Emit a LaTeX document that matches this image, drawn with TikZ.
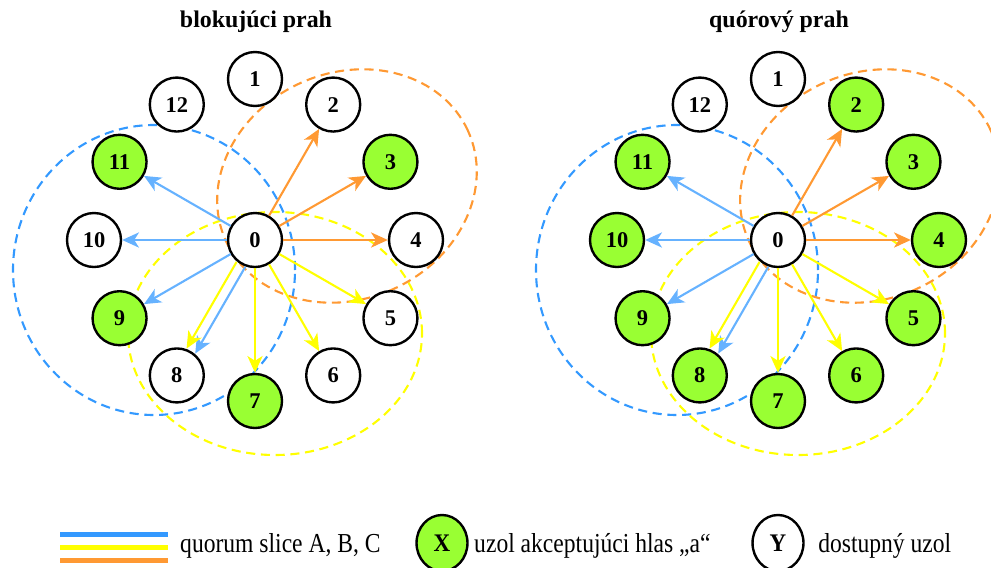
\documentclass[tikz,border=0pt]{standalone}
\usepackage{fontspec}
\setmainfont{Liberation Serif}
\usetikzlibrary{arrows.meta,calc,backgrounds}

\definecolor{sliceblue}{HTML}{3399FF}
\definecolor{arrowblue}{HTML}{66B2FF}
\definecolor{sliceyellow}{HTML}{FFFF00}
\definecolor{sliceorange}{HTML}{FF9933}
\definecolor{acceptgreen}{HTML}{99FF33}

\begin{document}
\begin{tikzpicture}

	\tikzstyle{vertex}=[circle,draw,line width=1.7pt,fill=white,
		minimum size=1.35cm,inner sep=0pt,
		font=\fontsize{16}{18}\selectfont\bfseries]
	\tikzstyle{accept}=[fill=acceptgreen]
	\tikzstyle{heading}=[font=\fontsize{17}{20}\selectfont\bfseries,anchor=base,inner sep=0pt]
	\tikzstyle{legendtext}=[font=\fontsize{19.5}{22}\selectfont,anchor=base west,
		inner sep=0pt,xscale=0.86]
	\tikzstyle{arrow}=[-{Stealth[length=0.42cm,width=0.38cm,inset=0.12cm]},line width=1.5pt]
	\tikzstyle{slice}=[dash pattern=on 6.5pt off 4pt,line width=1.5pt]

	\useasboundingbox (0,0) rectangle (24.775,-14.175);

	% blokujuci prah
	\node[heading](btitle) at (6.4,-0.6875){blokujúci prah};
	\node[vertex](b0) at (6.375,-6){0};
	\node[vertex](b1) at ($(b0)+(90:4.025)$){1};
	\node[vertex](b2) at ($(b0)+(60:3.91)$){2};
	\node[vertex,accept](b3) at ($(b0)+(30:3.91)$){3};
	\node[vertex](b4) at ($(b0)+(0:4.025)$){4};
	\node[vertex](b5) at ($(b0)+(-30:3.91)$){5};
	\node[vertex](b6) at ($(b0)+(-60:3.91)$){6};
	\node[vertex,accept](b7) at ($(b0)+(-90:4.025)$){7};
	\node[vertex](b8) at ($(b0)+(-120:3.91)$){8};
	\node[vertex,accept](b9) at ($(b0)+(-150:3.91)$){9};
	\node[vertex](b10) at ($(b0)+(180:4.025)$){10};
	\node[vertex,accept](b11) at ($(b0)+(150:3.91)$){11};
	\node[vertex](b12) at ($(b0)+(120:3.91)$){12};
	\coordinate (bA) at ($(b0)+(-2.525,-0.75)$);
	\coordinate (bB) at ($(b0)+(0.5,-2.3375)$);
	\coordinate (bC) at ($(b0)+(2.3,1.35)$);

	\begin{scope}[on background layer]
		\draw[slice,sliceblue] (bA) ellipse [x radius=3.525cm,y radius=3.625cm];
		\draw[slice,sliceyellow] (bB) ellipse [x radius=3.675cm,y radius=3.0375cm];
		\draw[slice,sliceorange,rotate around={24.5:(bC)}] (bC) ellipse [x radius=3.325cm,y radius=2.825cm];
	\end{scope}

	\draw[arrow,arrowblue] (b0) -- (b11);
	\draw[arrow,arrowblue] (b0) -- (b10);
	\draw[arrow,arrowblue] (b0) -- (b9);
	\draw[arrow,arrowblue,transform canvas={shift={(-30:0.125)}}] (b0) -- (b8);
	\draw[arrow,sliceyellow,transform canvas={shift={(150:0.125)}}] (b0) -- (b8);
	\draw[arrow,sliceyellow] (b0) -- (b7);
	\draw[arrow,sliceyellow] (b0) -- (b6);
	\draw[arrow,sliceyellow] (b0) -- (b5);
	\draw[arrow,sliceorange] (b0) -- (b4);
	\draw[arrow,sliceorange] (b0) -- (b3);
	\draw[arrow,sliceorange] (b0) -- (b2);

	% quorovy prah
	\node[heading](qtitle) at (19.475,-0.6875){quórový prah};
	\node[vertex](q0) at (19.45,-6){0};
	\node[vertex](q1) at ($(q0)+(90:4.025)$){1};
	\node[vertex,accept](q2) at ($(q0)+(60:3.91)$){2};
	\node[vertex,accept](q3) at ($(q0)+(30:3.91)$){3};
	\node[vertex,accept](q4) at ($(q0)+(0:4.025)$){4};
	\node[vertex,accept](q5) at ($(q0)+(-30:3.91)$){5};
	\node[vertex,accept](q6) at ($(q0)+(-60:3.91)$){6};
	\node[vertex,accept](q7) at ($(q0)+(-90:4.025)$){7};
	\node[vertex,accept](q8) at ($(q0)+(-120:3.91)$){8};
	\node[vertex,accept](q9) at ($(q0)+(-150:3.91)$){9};
	\node[vertex,accept](q10) at ($(q0)+(180:4.025)$){10};
	\node[vertex,accept](q11) at ($(q0)+(150:3.91)$){11};
	\node[vertex](q12) at ($(q0)+(120:3.91)$){12};
	\coordinate (qA) at ($(q0)+(-2.525,-0.75)$);
	\coordinate (qB) at ($(q0)+(0.5,-2.3375)$);
	\coordinate (qC) at ($(q0)+(2.3,1.35)$);

	\begin{scope}[on background layer]
		\draw[slice,sliceblue] (qA) ellipse [x radius=3.525cm,y radius=3.625cm];
		\draw[slice,sliceyellow] (qB) ellipse [x radius=3.675cm,y radius=3.0375cm];
		\draw[slice,sliceorange,rotate around={24.5:(qC)}] (qC) ellipse [x radius=3.325cm,y radius=2.825cm];
	\end{scope}

	\draw[arrow,arrowblue] (q0) -- (q11);
	\draw[arrow,arrowblue] (q0) -- (q10);
	\draw[arrow,arrowblue] (q0) -- (q9);
	\draw[arrow,arrowblue,transform canvas={shift={(-30:0.125)}}] (q0) -- (q8);
	\draw[arrow,sliceyellow,transform canvas={shift={(150:0.125)}}] (q0) -- (q8);
	\draw[arrow,sliceyellow] (q0) -- (q7);
	\draw[arrow,sliceyellow] (q0) -- (q6);
	\draw[arrow,sliceyellow] (q0) -- (q5);
	\draw[arrow,sliceorange] (q0) -- (q4);
	\draw[arrow,sliceorange] (q0) -- (q3);
	\draw[arrow,sliceorange] (q0) -- (q2);

	% legend
	\coordinate (barA1) at (1.5,-13.3625);
	\coordinate (barA2) at (4.2,-13.3625);
	\coordinate (barB1) at (1.5,-13.6875);
	\coordinate (barB2) at (4.2,-13.6875);
	\coordinate (barC1) at (1.5,-14.0125);
	\coordinate (barC2) at (4.2,-14.0125);
	\draw[line width=3.5pt,sliceblue] (barA1) -- (barA2);
	\draw[line width=3.5pt,sliceyellow] (barB1) -- (barB2);
	\draw[line width=3.5pt,sliceorange] (barC1) -- (barC2);
	\node[legendtext](legslice) at (4.5,-13.8){quorum slice A, B, C};
	\node[vertex,accept,xscale=0.91,minimum size=1.4cm,font=\fontsize{18}{20}\selectfont\bfseries](legx) at (11.05,-13.575){X};
	\node[legendtext](legaccept) at (11.85,-13.8){uzol akceptujúci hlas „a“};
	\node[vertex,xscale=0.91,minimum size=1.4cm,font=\fontsize{18}{20}\selectfont\bfseries](legy) at (19.45,-13.575){Y};
	\node[legendtext](legavail) at (20.45,-13.8){dostupný uzol};

\end{tikzpicture}
\end{document}
